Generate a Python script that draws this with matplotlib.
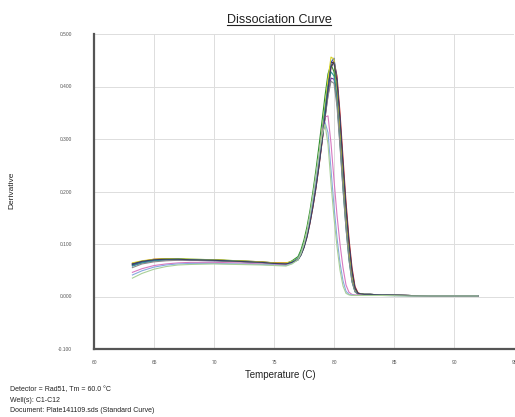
import matplotlib.pyplot as plt
from matplotlib.lines import Line2D

plt.rcParams['font.family'] = ['Liberation Sans', 'DejaVu Sans']

# temperature grid shared by all wells (C)
temps = [63.2, 64, 65, 66, 67, 68, 70, 72, 74, 75, 76, 76.5,
         77.0, 77.25, 77.5, 77.75, 78.0, 78.25, 78.5, 78.75, 79.0, 79.25, 79.5, 79.75,
         80.0, 80.25, 80.5, 80.75, 81.0, 81.25, 81.5, 81.75, 82.0, 82.25, 82.5,
         83, 84, 86, 88, 92]

# derivative values per well
c1 = [0.061, 0.066, 0.070, 0.071, 0.071, 0.070, 0.069, 0.068, 0.066, 0.064, 0.063, 0.066,
      0.072, 0.082, 0.098, 0.120, 0.148, 0.180, 0.216, 0.257, 0.303, 0.352, 0.404, 0.446,
      0.446, 0.400, 0.322, 0.234, 0.154, 0.088, 0.040, 0.013, 0.006, 0.005, 0.004,
      0.004, 0.003, 0.002, 0.001, 0.001]
c2 = [0.063, 0.067, 0.071, 0.072, 0.071, 0.070, 0.070, 0.067, 0.065, 0.064, 0.064, 0.066,
      0.071, 0.080, 0.094, 0.114, 0.140, 0.171, 0.207, 0.248, 0.293, 0.341, 0.393, 0.436,
      0.448, 0.420, 0.350, 0.264, 0.180, 0.110, 0.055, 0.019, 0.007, 0.005, 0.004,
      0.004, 0.003, 0.002, 0.001, 0.001]
c3 = [0.060, 0.066, 0.070, 0.072, 0.072, 0.071, 0.070, 0.068, 0.065, 0.063, 0.062, 0.068,
      0.076, 0.089, 0.108, 0.133, 0.164, 0.201, 0.242, 0.287, 0.334, 0.382, 0.424, 0.442,
      0.428, 0.376, 0.298, 0.214, 0.138, 0.076, 0.032, 0.010, 0.005, 0.005, 0.004,
      0.004, 0.003, 0.002, 0.001, 0.001]
c4 = [0.062, 0.066, 0.069, 0.070, 0.070, 0.069, 0.068, 0.067, 0.065, 0.063, 0.062, 0.065,
      0.070, 0.080, 0.095, 0.117, 0.145, 0.177, 0.213, 0.254, 0.299, 0.348, 0.400, 0.446,
      0.454, 0.412, 0.334, 0.246, 0.164, 0.096, 0.044, 0.014, 0.006, 0.005, 0.004,
      0.004, 0.003, 0.002, 0.001, 0.001]
c5 = [0.059, 0.064, 0.068, 0.070, 0.070, 0.070, 0.069, 0.067, 0.065, 0.063, 0.062, 0.065,
      0.071, 0.081, 0.097, 0.118, 0.146, 0.178, 0.214, 0.254, 0.297, 0.341, 0.384, 0.416,
      0.414, 0.374, 0.302, 0.220, 0.144, 0.082, 0.036, 0.011, 0.005, 0.004, 0.004,
      0.004, 0.003, 0.002, 0.001, 0.001]
c6 = [0.064, 0.068, 0.071, 0.072, 0.072, 0.071, 0.070, 0.068, 0.066, 0.064, 0.064, 0.067,
      0.073, 0.084, 0.101, 0.124, 0.153, 0.187, 0.225, 0.268, 0.314, 0.363, 0.414, 0.456,
      0.452, 0.402, 0.320, 0.232, 0.152, 0.086, 0.038, 0.012, 0.006, 0.005, 0.004,
      0.004, 0.003, 0.002, 0.001, 0.001]
c7 = [0.058, 0.064, 0.068, 0.070, 0.071, 0.070, 0.069, 0.067, 0.064, 0.062, 0.061, 0.066,
      0.073, 0.084, 0.101, 0.123, 0.152, 0.186, 0.224, 0.266, 0.311, 0.357, 0.401, 0.428,
      0.420, 0.370, 0.290, 0.206, 0.130, 0.070, 0.028, 0.009, 0.005, 0.004, 0.004,
      0.004, 0.003, 0.002, 0.001, 0.001]
c8 = [0.055, 0.062, 0.066, 0.068, 0.069, 0.069, 0.068, 0.066, 0.064, 0.062, 0.061, 0.064,
      0.070, 0.080, 0.096, 0.117, 0.145, 0.177, 0.213, 0.252, 0.295, 0.339, 0.381, 0.410,
      0.406, 0.362, 0.286, 0.204, 0.130, 0.070, 0.028, 0.009, 0.004, 0.004, 0.003,
      0.003, 0.003, 0.002, 0.001, 0.001]
c9 = [0.046, 0.053, 0.059, 0.062, 0.064, 0.065, 0.065, 0.064, 0.062, 0.061, 0.060, 0.064,
      0.071, 0.081, 0.098, 0.121, 0.152, 0.188, 0.227, 0.268, 0.311, 0.342, 0.344, 0.292,
      0.222, 0.155, 0.100, 0.055, 0.022, 0.008, 0.004, 0.003, 0.003, 0.003, 0.003,
      0.003, 0.002, 0.002, 0.001, 0.001]
c10 = [0.041, 0.049, 0.056, 0.060, 0.062, 0.063, 0.063, 0.062, 0.061, 0.060, 0.059, 0.063,
       0.070, 0.080, 0.097, 0.120, 0.151, 0.187, 0.225, 0.265, 0.303, 0.332, 0.312, 0.242,
       0.172, 0.112, 0.064, 0.030, 0.010, 0.004, 0.003, 0.002, 0.002, 0.002, 0.002,
       0.002, 0.002, 0.001, 0.001, 0.001]
c11 = [0.062, 0.067, 0.070, 0.071, 0.071, 0.070, 0.069, 0.067, 0.065, 0.063, 0.062, 0.065,
       0.070, 0.079, 0.093, 0.113, 0.140, 0.172, 0.208, 0.249, 0.295, 0.344, 0.395, 0.438,
       0.446, 0.410, 0.338, 0.252, 0.170, 0.102, 0.049, 0.016, 0.006, 0.005, 0.004,
       0.004, 0.003, 0.002, 0.001, 0.001]
c12 = [0.035, 0.044, 0.052, 0.057, 0.060, 0.061, 0.062, 0.061, 0.060, 0.059, 0.058, 0.062,
       0.070, 0.082, 0.100, 0.125, 0.157, 0.193, 0.232, 0.272, 0.308, 0.328, 0.290, 0.215,
       0.150, 0.095, 0.050, 0.020, 0.006, 0.003, 0.002, 0.002, 0.002, 0.002, 0.002,
       0.002, 0.002, 0.001, 0.001, 0.001]

wells = [c1, c2, c3, c4, c5, c6, c7, c8, c9, c10, c11, c12]
colors = ['#202020', '#c02020', '#2f8f2f', '#3048b8', '#70309a', '#d8d428',
          '#2f9a9a', '#8a8a8a', '#d878c0', '#88a8e0', '#3a4260', '#a8d098']

x_ticks = [60, 65, 70, 75, 80, 85, 90, 95]
y_ticks = [-0.1, 0.0, 0.1, 0.2, 0.3, 0.4, 0.5]

fig = plt.figure(figsize=(5.15, 4.17), dpi=100)
ax = fig.add_axes([94 / 515, 1 - 349 / 417, 420 / 515, 315 / 417])

for vals, col in zip(wells, colors):
    ax.plot(temps, vals, color=col, linewidth=0.8)

ax.set_xlim(60, 95)
ax.set_ylim(-0.1, 0.5)
ax.set_xticks(x_ticks)
ax.set_xticklabels([str(t) for t in x_ticks])
ax.set_yticks(y_ticks)
ax.set_yticklabels(['%.3f' % v for v in y_ticks])
ax.tick_params(labelsize=3.5, labelcolor='#555555', length=0, pad=8)
ax.tick_params(axis='y', pad=16)
ax.grid(True, color='#dddddd', linewidth=0.7)
for side in ['top', 'right']:
    ax.spines[side].set_visible(False)
ax.spines['left'].set_color('#555555')
ax.spines['bottom'].set_color('#555555')
ax.spines['left'].set_linewidth(1.6)
ax.spines['bottom'].set_linewidth(1.6)

title = fig.text(279 / 515, 1 - 20 / 417, 'Dissociation Curve', ha='center', va='center',
                 fontsize=9, color='#222222')
fig.text(280 / 515, 1 - 375 / 417, 'Temperature (C)', ha='center', va='center',
         fontsize=7, color='#222222')
fig.text(12 / 515, 1 - 190 / 417, 'Derivative', ha='center', va='center',
         rotation=90, fontsize=6, color='#222222')
footer = ['Detector = Rad51, Tm = 60.0 \u00b0C',
          'Well(s): C1-C12',
          'Document: Plate141109.sds (Standard Curve)']
for i, line in enumerate(footer):
    fig.text(10 / 515, 1 - (390 + 10.5 * i) / 417, line, ha='left', va='center',
             fontsize=5, color='#222222')

# underline the title
fig.canvas.draw()
bb = title.get_window_extent().transformed(fig.transFigure.inverted())
fig.add_artist(Line2D([bb.x0, bb.x1], [bb.y0 + 0.002, bb.y0 + 0.002],
                      transform=fig.transFigure, color='#222222', linewidth=0.8))

fig.savefig('out.png', dpi=100)
